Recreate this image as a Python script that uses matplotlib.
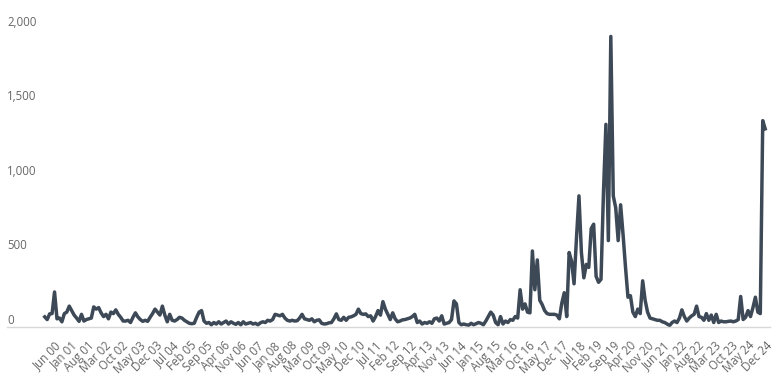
import matplotlib
matplotlib.use("Agg")
import matplotlib.pyplot as plt
import numpy as np

plt.rcParams['font.family'] = ['Open Sans', 'DejaVu Sans']

# monthly values, Jun 2000 .. Dec 2024
values = [
    # 2000 Jun-Dec
    68, 50, 88, 90, 235, 55, 60,
    # 2001
    35, 90, 100, 140, 110, 80, 60, 38, 85, 40, 50, 55,
    # 2002
    60, 135, 120, 130, 95, 70, 85, 55, 100, 90, 115, 85,
    # 2003
    65, 40, 40, 45, 30, 65, 95, 68, 50, 38, 45, 38,
    # 2004
    65, 90, 120, 100, 80, 140, 80, 35, 85, 45, 40, 50,
    # 2005
    65, 60, 45, 35, 25, 22, 25, 65, 100, 110, 40, 25,
    # 2006
    30, 15, 30, 20, 35, 20, 30, 40, 20, 35, 25, 18,
    # 2007
    30, 15, 35, 20, 25, 30, 20, 25, 15, 28, 35, 30,
    # 2008
    45, 40, 50, 85, 80, 75, 85, 60, 45, 40, 45, 40,
    # 2009
    42, 60, 85, 55, 50, 45, 55, 35, 45, 48, 25, 20,
    # 2010
    22, 28, 30, 55, 88, 50, 45, 65, 45, 65, 68, 75,
    # 2011
    85, 120, 90, 85, 88, 70, 75, 40, 70, 110, 80, 170,
    # 2012
    120, 85, 50, 95, 55, 35, 40, 48, 50, 55, 60, 70,
    # 2013
    85, 30, 40, 20, 30, 25, 35, 25, 55, 60, 40, 75,
    # 2014
    20, 25, 30, 50, 175, 155, 30, 15, 20, 15, 12, 25,
    # 2015
    15, 22, 30, 25, 15, 40, 70, 100, 80, 30, 15, 70,
    # 2016
    20, 40, 30, 50, 45, 70, 60, 250, 120, 155, 100, 95,
    # 2017
    510, 250, 450, 180, 150, 110, 90, 85, 85, 85, 80, 55,
    # 2018
    160, 230, 70, 500, 440, 290, 600, 880, 500, 330, 420, 400,
    # 2019
    660, 690, 340, 300, 320, 900, 1360, 580, 1950, 880, 800, 580,
    # 2020
    820, 620, 400, 200, 210, 100, 70, 120, 90, 310, 180, 100,
    # 2021
    60, 55, 50, 45, 45, 35, 30, 20, 10, 30, 40, 30,
    # 2022
    60, 115, 70, 40, 60, 75, 85, 140, 70, 65, 45, 90,
    # 2023
    45, 80, 30, 85, 30, 40, 35, 35, 38, 40, 35, 40,
    # 2024
    50, 205, 50, 65, 110, 70, 130, 200, 100, 90, 1385, 1330,
]

months = ['Jan', 'Feb', 'Mar', 'Apr', 'May', 'Jun',
          'Jul', 'Aug', 'Sep', 'Oct', 'Nov', 'Dec']
labels = []
for k in range(len(values)):
    m = 5 + k  # Jun 2000 = month index 5 of 2000
    labels.append(f"{months[m % 12]} {(m // 12) % 100:02d}")

tick_idx = list(range(0, len(values), 7))
tick_labels = [labels[i] for i in tick_idx]

fig = plt.figure(figsize=(7.82, 3.81), dpi=100)
ax = fig.add_axes([7 / 782, 54 / 381, 763 / 782, 298 / 381])

x = np.arange(len(values))
ax.plot(x, values, color='#3d4956', linewidth=2.5, solid_joinstyle='round',
        clip_on=False)

ax.set_xlim(-15.4, 294.8)
ax.set_ylim(0, 2000)

for s in ['top', 'right', 'left']:
    ax.spines[s].set_visible(False)
ax.spines['bottom'].set_color('#d8d8d8')
ax.spines['bottom'].set_linewidth(1)

ax.set_yticks([])
for v in [0, 500, 1000, 1500, 2000]:
    ax.annotate(f"{v:,}", xy=(0, v), xycoords=('axes fraction', 'data'),
                xytext=(0, 5), textcoords='offset points',
                ha='left', va='center', fontsize=8.3, color='#666666')

# label anchors sit slightly right of each point, spacing a bit tighter
n = len(tick_idx)
label_pos = [(63 + k * (777 - 63) / (n - 1) - 45) / 2.46 - 1.6 for k in range(n)]
ax.set_xticks(label_pos)
ax.set_xticklabels(tick_labels, rotation=45, ha='right', va='center',
                   rotation_mode='anchor', fontsize=8.3, color='#666666')
ax.tick_params(axis='x', length=0, pad=12)

fig.savefig('out.png', dpi=100)
